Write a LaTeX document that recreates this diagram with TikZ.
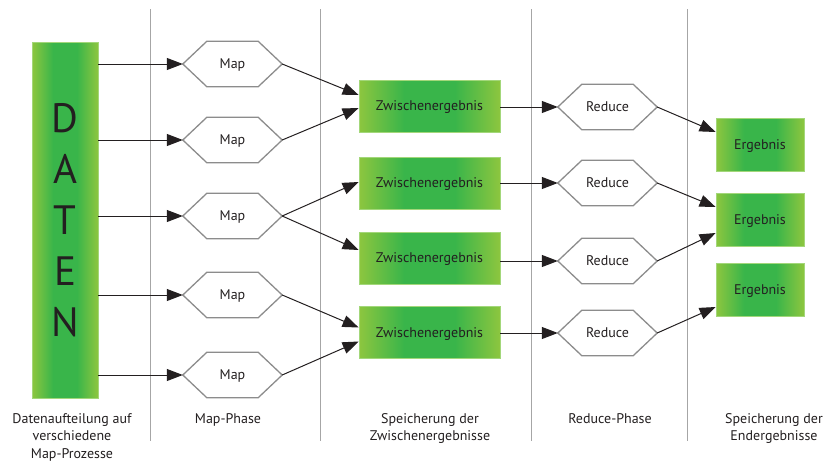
\documentclass[tikz,border=0pt]{standalone}
\usepackage{fontspec}
\setmainfont{PT Sans}
\usetikzlibrary{arrows.meta,calc}
\definecolor{lgreen}{HTML}{8DC63F}
\definecolor{dgreen}{HTML}{39B54A}
\definecolor{bgreen}{HTML}{A3D77A}
\definecolor{txt}{HTML}{231F20}
\definecolor{hexgray}{HTML}{8C8C8C}
\definecolor{sepgray}{HTML}{A6A6A6}
\pgfdeclarehorizontalshading{greenshade}{100bp}{color(0bp)=(lgreen); color(25bp)=(lgreen); color(41bp)=(dgreen); color(59bp)=(dgreen); color(75bp)=(lgreen); color(100bp)=(lgreen)}
\begin{document}
\begin{tikzpicture}[x=1pt,y=-1pt,
  greenbox/.style={draw=bgreen, line width=0.8pt, shade, shading=greenshade, text=txt, inner sep=0pt, font=\fontsize{14}{16}\selectfont, text height=9.8pt, text depth=0pt},
  hexnode/.style={minimum width=99pt, minimum height=45pt, inner sep=0pt, text=txt, font=\fontsize{14}{16}\selectfont, text height=9.8pt, text depth=0pt},
  hexline/.style={draw=hexgray, line width=1.3pt, line join=miter},
  conn/.style={draw=txt, line width=1pt, -{Triangle[length=16pt,width=12pt]}},
  sepline/.style={draw=sepgray, line width=1pt},
  caption/.style={align=center, anchor=north, text=txt, inner sep=0pt, font=\fontsize{14}{17.5}\selectfont}
]
\useasboundingbox (0,0) rectangle (826,463);

% separators
\draw[sepline] (150,9) -- (150,441);
\draw[sepline] (320,9) -- (320,441);
\draw[sepline] (531,9) -- (531,441);
\draw[sepline] (687,9) -- (687,441);

% data box
\node[greenbox, minimum width=66pt, minimum height=356pt, align=center, text height=, text depth=,
      font=\fontsize{41}{51}\selectfont] (daten) at (65,220.5) {D\\A\\T\\E\\N};

% map nodes
\node[hexnode] (m1) at (232.5,64) {Map};
\node[hexnode] (m2) at (232.5,140) {Map};
\node[hexnode] (m3) at (232.5,216) {Map};
\node[hexnode] (m4) at (232.5,295) {Map};
\node[hexnode] (m5) at (232.5,375) {Map};

% intermediate results
\node[greenbox, minimum width=141pt, minimum height=52pt] (z1) at (429.5,106) {Zwischenergebnis};
\node[greenbox, minimum width=141pt, minimum height=52pt] (z2) at (429.5,183) {Zwischenergebnis};
\node[greenbox, minimum width=141pt, minimum height=52pt] (z3) at (429.5,258) {Zwischenergebnis};
\node[greenbox, minimum width=141pt, minimum height=52pt] (z4) at (429.5,332.5) {Zwischenergebnis};

% reduce nodes
\node[hexnode] (r1) at (607.5,107) {Reduce};
\node[hexnode] (r2) at (607.5,183) {Reduce};
\node[hexnode] (r3) at (607.5,261) {Reduce};
\node[hexnode] (r4) at (607.5,333) {Reduce};

% results
\node[greenbox, minimum width=88pt, minimum height=53pt] (e1) at (760,145) {Ergebnis};
\node[greenbox, minimum width=88pt, minimum height=53pt] (e2) at (760,219.5) {Ergebnis};
\node[greenbox, minimum width=88pt, minimum height=53pt] (e3) at (760,290) {Ergebnis};

% hexagon outlines
\foreach \n in {m1,m2,m3,m4,m5,r1,r2,r3,r4}
  \draw[hexline] (\n.west) -- ([xshift=24pt]\n.north west) -- ([xshift=-24pt]\n.north east)
    -- (\n.east) -- ([xshift=-24pt]\n.south east) -- ([xshift=24pt]\n.south west) -- cycle;

% data -> map
\foreach \n in {m1,m2,m3,m4,m5}
  \draw[conn] (daten.east |- \n.west) -- (\n.west);

% map -> intermediate
\draw[conn] (m1.east) -- ([yshift=11pt]z1.west);
\draw[conn] (m2.east) -- ([yshift=-2pt]z1.west);
\draw[conn] (m3.east) -- ([yshift=1pt]z2.west);
\draw[conn] (m3.east) -- ([yshift=8pt]z3.west);
\draw[conn] (m4.east) -- ([yshift=5pt]z4.west);
\draw[conn] (m5.east) -- ([yshift=-9pt]z4.west);

% intermediate -> reduce
\draw[conn] (z1.east |- r1.west) -- (r1.west);
\draw[conn] (z2.east |- r2.west) -- (r2.west);
\draw[conn] (z3.east |- r3.west) -- (r3.west);
\draw[conn] (z4.east |- r4.west) -- (r4.west);

% reduce -> results
\draw[conn] (r1.east) -- ([yshift=13pt]e1.west);
\draw[conn] (r2.east) -- ([yshift=12.5pt]e2.west);
\draw[conn] (r3.east) -- ([yshift=-13.5pt]e2.west);
\draw[conn] (r4.east) -- ([yshift=-17pt]e3.west);

% captions
\node[caption] (c1) at (72,413) {Datenaufteilung auf\\verschiedene\\Map-Prozesse};
\node[caption] (c2) at (228,413) {Map-Phase};
\node[caption] (c3) at (430,413) {Speicherung der\\Zwischenergebnisse};
\node[caption] (c4) at (610,413) {Reduce-Phase};
\node[caption] (c5) at (774,413) {Speicherung der\\Endergebnisse};
\end{tikzpicture}
\end{document}
